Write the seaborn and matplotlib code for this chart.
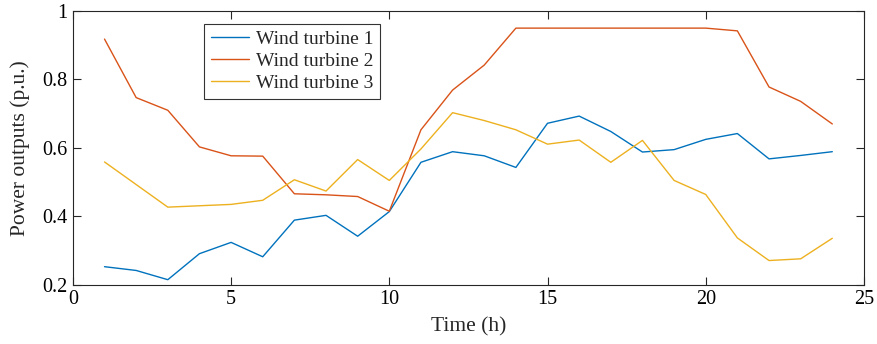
import numpy as np
import pandas as pd
import matplotlib
matplotlib.use("Agg")
import matplotlib.pyplot as plt
import seaborn as sns
from matplotlib.ticker import FuncFormatter

hours = list(range(1, 25))
wt1 = [0.253, 0.242, 0.215, 0.291, 0.324, 0.282, 0.389, 0.403, 0.342, 0.414,
       0.558, 0.589, 0.577, 0.543, 0.672, 0.693, 0.648, 0.588, 0.595, 0.625,
       0.642, 0.568, 0.578, 0.589]
wt2 = [0.918, 0.747, 0.710, 0.603, 0.577, 0.576, 0.466, 0.463, 0.458, 0.415,
       0.653, 0.769, 0.842, 0.950, 0.950, 0.950, 0.950, 0.950, 0.950, 0.950,
       0.942, 0.778, 0.736, 0.670]
wt3 = [0.559, 0.493, 0.427, 0.431, 0.435, 0.447, 0.507, 0.474, 0.566, 0.505,
       0.597, 0.703, 0.680, 0.653, 0.611, 0.623, 0.558, 0.622, 0.505, 0.464,
       0.337, 0.271, 0.276, 0.336]
labels = ["Wind turbine 1", "Wind turbine 2", "Wind turbine 3"]
colors = ["#0072BD", "#D95319", "#EDB120"]

df = pd.concat([
    pd.DataFrame({"Time": hours, "Power": v, "Series": lab})
    for v, lab in zip([wt1, wt2, wt3], labels)
])

sns.set_theme(style="white")
plt.rcParams["font.family"] = ["Liberation Serif", "DejaVu Serif"]

fig = plt.figure(figsize=(8.78, 3.44), dpi=100)
ax = fig.add_axes([0.083, 0.172, 0.901, 0.796])
sns.lineplot(data=df, x="Time", y="Power", hue="Series", palette=colors,
             linewidth=1.0, ax=ax, legend=True)

ax.set_xlim(0, 25)
ax.set_ylim(0.2, 1.0)
ax.set_xticks([0, 5, 10, 15, 20, 25])
ax.set_yticks([0.2, 0.4, 0.6, 0.8, 1.0])
ax.yaxis.set_major_formatter(FuncFormatter(lambda v, p: f"{v:g}"))
ax.set_xlabel("Time (h)", fontsize=15.5, labelpad=6)
ax.set_ylabel("Power outputs (p.u.)", fontsize=15.5, labelpad=9)
ax.tick_params(direction="in", length=6, width=0.8, labelsize=14.5, pad=4,
               top=True, right=True, bottom=True, left=True, colors="#262626",
               labelcolor="black")
for s in ax.spines.values():
    s.set_visible(True)
    s.set_linewidth(0.8)
    s.set_color("#262626")

leg = ax.legend(loc="upper left", bbox_to_anchor=(0.166, 0.953), fontsize=14,
                frameon=True, fancybox=False, edgecolor="black",
                handlelength=1.95, borderpad=0.35, labelspacing=0.22,
                handletextpad=0.35, borderaxespad=0)
leg.get_frame().set_linewidth(0.8)
leg.set_title(None)

fig.savefig("out.png", dpi=100)
